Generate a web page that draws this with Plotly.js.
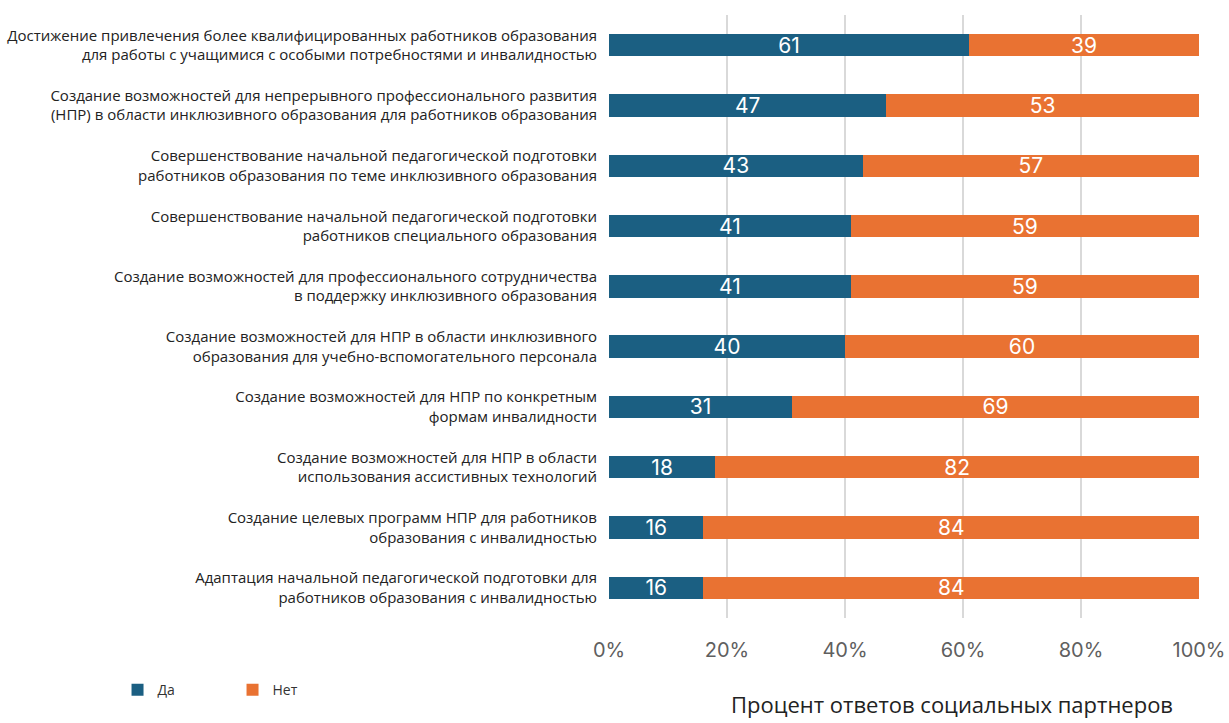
<!DOCTYPE html>
<html>
<head>
<meta charset="utf-8">
<script src="https://cdn.plot.ly/plotly-3.0.1.min.js"></script>
<style>html,body{margin:0;padding:0;background:#fff;}#chart{width:1229px;height:723px;}</style>
</head>
<body>
<div id="chart"></div>
<script>
const categories = [
  "Достижение привлечения более квалифицированных работников образования<br>для работы с учащимися с особыми потребностями и инвалидностью",
  "Создание возможностей для непрерывного профессионального развития<br>(НПР) в области инклюзивного образования для работников образования",
  "Совершенствование начальной педагогической подготовки<br>работников образования по теме инклюзивного образования",
  "Совершенствование начальной педагогической подготовки<br>работников специального образования",
  "Создание возможностей для профессионального сотрудничества<br>в поддержку инклюзивного образования",
  "Создание возможностей для НПР в области инклюзивного<br>образования для учебно-вспомогательного персонала",
  "Создание возможностей для НПР по конкретным<br>формам инвалидности",
  "Создание возможностей для НПР в области<br>использования ассистивных технологий",
  "Создание целевых программ НПР для работников<br>образования с инвалидностью",
  "Адаптация начальной педагогической подготовки для<br>работников образования с инвалидностью"
];
const yesValues = [61, 47, 43, 41, 41, 40, 31, 18, 16, 16];
const noValues  = [39, 53, 57, 59, 59, 60, 69, 82, 84, 84];
const seriesNames = ["Да", "Нет"];
const tickVals = [0, 20, 40, 60, 80, 100];
const tickText = ["0%", "20%", "40%", "60%", "80%", "100%"];
const axisTitle = "Процент ответов социальных партнеров";

const colors = ["#1b5f82", "#e97232"];
const barFont = {family: "Inter, Roboto, sans-serif", size: 21, color: "#ffffff"};

const traces = [yesValues, noValues].map((vals, i) => ({
  type: "bar",
  orientation: "h",
  name: seriesNames[i],
  y: categories,
  x: vals,
  text: vals.map(String),
  textposition: "inside",
  insidetextanchor: "middle",
  textangle: 0,
  constraintext: "none",
  textfont: barFont,
  marker: {color: colors[i]},
  width: 0.37,
  hoverinfo: "x+name"
}));

const layout = {
  width: 1229,
  height: 723,
  barmode: "stack",
  paper_bgcolor: "#ffffff",
  plot_bgcolor: "#ffffff",
  margin: {l: 609, r: 30, t: 15, b: 105, pad: 0},
  showlegend: true,
  legend: {
    orientation: "h",
    x: -0.833,
    y: -0.093,
    xanchor: "left",
    yanchor: "top",
    font: {family: "Open Sans, sans-serif", size: 14, color: "#333333"},
    itemwidth: 30,
    entrywidth: 70,
    entrywidthmode: "pixels",
    traceorder: "normal"
  },
  annotations: [{
    text: axisTitle,
    xref: "paper",
    yref: "paper",
    x: 0.581,
    y: -0.1426,
    xanchor: "center",
    yanchor: "middle",
    showarrow: false,
    font: {family: "Open Sans, sans-serif", size: 22, color: "#222222"}
  }],
  xaxis: {
    range: [0, 100],
    tickvals: tickVals,
    ticktext: tickText,
    showgrid: true,
    gridcolor: "#d9d9d9",
    gridwidth: 2,
    zeroline: false,
    showline: false,
    ticks: "",
    ticklabelstandoff: 18,
    tickfont: {family: "Inter, Roboto, sans-serif", size: 20, color: "#5f5f5f"},
    fixedrange: true
  },
  yaxis: {
    autorange: "reversed",
    showgrid: false,
    zeroline: false,
    showline: false,
    ticks: "",
    ticklabelstandoff: 11,
    tickfont: {family: "Open Sans, sans-serif", size: 15, color: "#222222"},
    fixedrange: true
  }
};

Plotly.newPlot("chart", traces, layout, {displayModeBar: false, staticPlot: true});
</script>
</body>
</html>
